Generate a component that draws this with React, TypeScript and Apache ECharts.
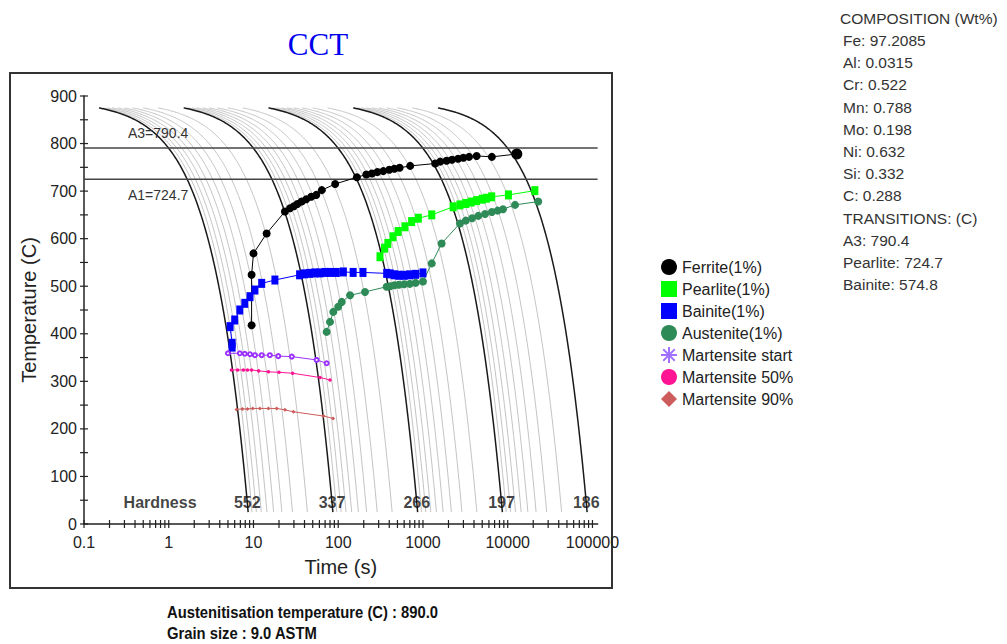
import React, { useEffect, useRef } from 'react';
import * as echarts from 'echarts';

// ---- data ----
const AUSTENITISATION_T = 890;
const CURVE_TOP = 875;
const CURVE_BOTTOM = 25;
const A3 = 790.4;
const A1 = 724.7;
const X_MIN = 0.1;
const X_MAX = 115000;

const coolingRatesMain = [100, 10, 1, 0.1, 0.01];
const coolingRatesMinor = [
  90, 80, 70, 60, 50, 40, 30, 20,
  9, 8, 7, 6, 5, 4, 3, 2,
  0.9, 0.8, 0.7, 0.6, 0.5, 0.4, 0.3, 0.2,
  0.09, 0.08, 0.07, 0.06, 0.05, 0.04, 0.03, 0.02,
];
const hardness = [552, 337, 266, 197, 186];

const ferrite = [
  [9.5, 418], [9.5, 524], [10, 569], [14.3, 611], [23.5, 657], [27, 664], [30, 668], [33, 673],
  [37, 678], [42, 683], [48, 688], [55, 692], [64, 702], [92, 715], [166, 729], [215, 735],
  [250, 737], [290, 740], [340, 742], [400, 745], [460, 747], [530, 749], [706, 753], [1393, 758],
  [1600, 762], [1900, 764], [2200, 766], [2600, 768], [3000, 770], [3500, 772], [4300, 774],
  [6500, 772], [12800, 778],
];
const pearlite = [
  [311, 562], [352, 580], [385, 590], [443, 604], [510, 615], [612, 625], [735, 636], [882, 643],
  [1270, 650], [2270, 667], [2733, 671], [3200, 674], [3700, 677], [4300, 680], [5000, 683],
  [5600, 685], [6470, 688], [10200, 692], [20900, 701],
];
const bainite = [
  [5.6, 372], [5.6, 380], [5.3, 415], [6.0, 429], [6.9, 450], [7.9, 464], [9.1, 478], [10.4, 492],
  [12.5, 506], [17.9, 513], [35, 524], [40, 526], [46, 527], [53, 528], [61, 528], [70, 529],
  [81, 529], [95, 529], [115, 530], [150, 529], [196, 529], [373, 527], [410, 526], [460, 524],
  [520, 523], [600, 523], [700, 524], [820, 525], [1000, 528],
];
const austenite = [
  [73, 404], [80, 425], [87.5, 446], [100, 457], [110, 467], [138, 481], [207, 488], [373, 499],
  [410, 500], [460, 502], [520, 503], [600, 504], [700, 505], [820, 507], [1000, 510], [1270, 548],
  [1660, 590], [2730, 632], [3200, 638], [3800, 643], [4500, 648], [5400, 652], [6500, 656],
  [7600, 659], [8800, 662], [12200, 671], [22900, 678],
];
const martensiteStart = [
  [5.0, 359], [6.9, 359], [7.9, 358], [9.1, 357], [10.4, 355], [12.5, 355], [15.6, 355],
  [19.6, 353], [28.3, 352], [55.6, 345], [73, 338],
];
const martensite50 = [
  [5.5, 324], [6.5, 324], [7.6, 324], [8.5, 324], [9.5, 324], [11.5, 322], [15, 320], [20, 319],
  [29, 317], [61, 308], [80, 303],
];
const martensite90 = [
  [6.3, 241], [7.4, 242], [8.5, 242], [9.8, 243], [11.9, 243], [15, 243], [18.8, 243], [23.5, 240],
  [29.6, 236], [67, 227], [87, 222],
];

const xTickLabels = ['0.1', '1', '10', '100', '1000', '10000', '100000'];
const xDecades = [0.1, 1, 10, 100, 1000, 10000];
const xMultipliers = [1, 2, 3, 4, 5, 6, 7, 8, 9];
const yTickValues = [0, 50, 100, 150, 200, 250, 300, 350, 400, 450, 500, 550, 600, 650, 700, 750, 800, 850, 900];

const compositionLines = [
  'COMPOSITION (Wt%)', 'Fe: 97.2085', 'Al: 0.0315', 'Cr: 0.522', 'Mn: 0.788', 'Mo: 0.198',
  'Ni: 0.632', 'Si: 0.332', 'C: 0.288', 'TRANSITIONS: (C)', 'A3: 790.4', 'Pearlite: 724.7',
  'Bainite: 574.8',
];
const footerLines = ['Austenitisation temperature (C) : 890.0', 'Grain size : 9.0 ASTM'];

const HARDNESS_LABEL_T = 45;
const ASTERISK = 'path://M0,7h16v2h-16z M7,0h2v16h-2z M1.6,2.9L2.9,1.6L14.4,13.1L13.1,14.4z M13.1,1.6L14.4,2.9L2.9,14.4L1.6,13.1z';

const FONT = 'Arial, "Liberation Sans", sans-serif';

function curveRenderer(color: string, width: number) {
  return (_params: any, api: any) => {
    const r = api.value(0);
    const tStart = (AUSTENITISATION_T - CURVE_TOP) / r;
    const tEnd = (AUSTENITISATION_T - CURVE_BOTTOM) / r;
    const pts: number[][] = [];
    const n = 160;
    for (let k = 0; k <= n; k++) {
      const t = tStart * Math.pow(tEnd / tStart, k / n);
      pts.push(api.coord([t, AUSTENITISATION_T - r * t]));
    }
    return {
      type: 'polyline',
      shape: { points: pts },
      style: { stroke: color, lineWidth: width, fill: 'none' },
    };
  };
}

export default function App() {
  const ref = useRef<HTMLDivElement>(null);

  useEffect(() => {
    if (!ref.current) return;
    const chart = echarts.init(ref.current, null, { renderer: 'svg' });

    const xTicks: number[][] = [];
    xDecades.forEach((d) => xMultipliers.forEach((m) => xTicks.push([d * m, 0])));
    xTicks.push([100000, 0]);
    const yTicks = yTickValues.map((v) => [X_MIN, v]);

    const hardnessData: any[] = hardness.map((h, i) => [
      (AUSTENITISATION_T - HARDNESS_LABEL_T) / coolingRatesMain[i], HARDNESS_LABEL_T, String(h),
    ]);
    hardnessData.push([0.79, HARDNESS_LABEL_T, 'Hardness']);

    const phaseLine = (name: string, data: number[][], color: string, symbol: string, size: any, z = 5) => ({
      name,
      type: 'line',
      data,
      symbol,
      symbolSize: size,
      showAllSymbol: true,
      lineStyle: { color, width: 1 },
      itemStyle: { color },
      z,
      silent: true,
    });

    const option: any = {
      animation: false,
      backgroundColor: '#ffffff',
      grid: { left: 84, right: 1007 - 597.6, top: 96, bottom: 644 - 524, containLabel: false },
      xAxis: {
        type: 'log',
        logBase: 10,
        min: X_MIN,
        max: X_MAX,
        splitNumber: 6,
        name: 'Time (s)',
        nameLocation: 'middle',
        nameGap: 33,
        nameTextStyle: { fontSize: 20, color: '#222', fontFamily: FONT },
        axisLine: { lineStyle: { color: '#222', width: 1.5 } },
        axisTick: { show: false },
        minorTick: { show: false },
        splitLine: { show: false },
        axisLabel: {
          fontSize: 16,
          color: '#222',
          fontFamily: FONT,
          margin: 10,
          showMaxLabel: false,
          formatter: (v: number) => {
            const lg = Math.log10(v);
            if (Math.abs(lg - Math.round(lg)) > 1e-6) return '';
            const idx = Math.round(lg) + 1;
            return xTickLabels[idx] ?? '';
          },
        },
      },
      yAxis: {
        type: 'value',
        min: 0,
        max: 900,
        interval: 100,
        name: 'Temperature (C)',
        nameLocation: 'middle',
        nameGap: 42,
        nameTextStyle: { fontSize: 20, color: '#222', fontFamily: FONT },
        axisLine: { show: true, lineStyle: { color: '#222', width: 1.5 } },
        axisTick: { show: false },
        splitLine: { show: false },
        axisLabel: { fontSize: 16, color: '#222', fontFamily: FONT, margin: 7 },
      },
      legend: {
        orient: 'vertical',
        left: 656,
        top: 254,
        itemWidth: 16,
        itemHeight: 16,
        itemGap: 6,
        selectedMode: false,
        textStyle: { fontSize: 16, color: '#222', fontFamily: FONT },
        data: [
          { name: 'Ferrite(1%)', icon: 'circle' },
          { name: 'Pearlite(1%)', icon: 'rect' },
          { name: 'Bainite(1%)', icon: 'rect' },
          { name: 'Austenite(1%)', icon: 'circle' },
          { name: 'Martensite start', icon: ASTERISK, itemStyle: { color: '#a070ff' } },
          { name: 'Martensite 50%', icon: 'circle' },
          { name: 'Martensite 90%', icon: 'diamond' },
        ],
      },
      graphic: [
        {
          type: 'rect',
          shape: { x: 10, y: 73, width: 602, height: 515 },
          style: { fill: 'none', stroke: '#333', lineWidth: 2 },
          z: 0,
          silent: true,
        },
        {
          type: 'text',
          x: 318,
          y: 44,
          style: {
            text: 'CCT',
            fill: '#0000ee',
            font: '31px "Liberation Serif", "DejaVu Serif", serif',
            textAlign: 'center',
            textVerticalAlign: 'middle',
          },
        },
        {
          type: 'text',
          x: 128,
          y: 133,
          z: 10,
          style: { text: 'A3=790.4', fill: '#333', font: `14px ${FONT}`, textAlign: 'left', textVerticalAlign: 'middle' },
        },
        {
          type: 'text',
          x: 128,
          y: 195,
          z: 10,
          style: { text: 'A1=724.7', fill: '#333', font: `14px ${FONT}`, textAlign: 'left', textVerticalAlign: 'middle' },
        },
        ...compositionLines.map((s, i) => ({
          type: 'text',
          x: i === 0 ? 840 : 843,
          y: 18.3 + 22.2 * i,
          style: { text: s, fill: '#333', font: `15.5px ${FONT}`, textAlign: 'left', textVerticalAlign: 'middle' },
        })),
        ...footerLines.map((s, i) => ({
          type: 'text',
          x: 167,
          y: 612 + 21 * i,
          scaleX: 0.87,
          style: {
            text: s,
            fill: '#111',
            font: `bold 17px ${FONT}`,
            textAlign: 'left',
            textVerticalAlign: 'middle',
          },
        })),
      ],
      series: [
        {
          name: 'minor cooling',
          type: 'custom',
          coordinateSystem: 'cartesian2d',
          data: coolingRatesMinor.map((r) => [r, 500]),
          renderItem: curveRenderer('#c4c4c4', 1),
          z: 1,
          silent: true,
        },
        {
          name: 'main cooling',
          type: 'custom',
          coordinateSystem: 'cartesian2d',
          data: coolingRatesMain.map((r) => [r, 500]),
          renderItem: curveRenderer('#1a1a1a', 1.5),
          z: 2,
          silent: true,
        },
        {
          name: 'A3',
          type: 'line',
          data: [[X_MIN, A3], [X_MAX, A3]],
          symbol: 'none',
          lineStyle: { color: '#444', width: 1.5 },
          z: 3,
          silent: true,
        },
        {
          name: 'A1',
          type: 'line',
          data: [[X_MIN, A1], [X_MAX, A1]],
          symbol: 'none',
          lineStyle: { color: '#444', width: 1.5 },
          z: 3,
          silent: true,
        },
        phaseLine('Ferrite(1%)', ferrite, '#000000', 'circle',
          (_v: any, p: any) => (p.dataIndex === ferrite.length - 1 ? 11 : 8)),
        phaseLine('Pearlite(1%)', pearlite, '#00ff00', 'rect', [7, 9]),
        phaseLine('Bainite(1%)', bainite, '#0000ff', 'rect', [7, 9]),
        phaseLine('Austenite(1%)', austenite, '#2e8b57', 'circle', 8),
        phaseLine('Martensite start', martensiteStart, '#9b30ff', 'emptyCircle', 4),
        phaseLine('Martensite 50%', martensite50, '#ff1493', 'circle', 3.5),
        phaseLine('Martensite 90%', martensite90, '#cd5c5c', 'diamond', 4),
        {
          name: 'hardness',
          type: 'scatter',
          data: hardnessData,
          symbolSize: 0,
          z: 8,
          silent: true,
          label: {
            show: true,
            position: 'inside',
            formatter: (p: any) => p.value[2],
            fontSize: 16,
            fontWeight: 'bold',
            color: '#111',
            fontFamily: FONT,
          },
        },
        {
          name: 'xticks',
          type: 'custom',
          coordinateSystem: 'cartesian2d',
          data: xTicks,
          z: 9,
          silent: true,
          renderItem: (_p: any, api: any) => {
            const c = api.coord([api.value(0), api.value(1)]);
            return {
              type: 'line',
              shape: { x1: c[0], y1: c[1] - 4, x2: c[0], y2: c[1] + 4 },
              style: { stroke: '#222', lineWidth: 1.2 },
            };
          },
        },
        {
          name: 'yticks',
          type: 'custom',
          coordinateSystem: 'cartesian2d',
          data: yTicks,
          z: 9,
          silent: true,
          renderItem: (_p: any, api: any) => {
            const c = api.coord([api.value(0), api.value(1)]);
            return {
              type: 'line',
              shape: { x1: c[0] - 4, y1: c[1], x2: c[0] + 4, y2: c[1] },
              style: { stroke: '#222', lineWidth: 1.2 },
            };
          },
        },
      ],
    };

    chart.setOption(option);
    return () => chart.dispose();
  }, []);

  return (
    <div
      ref={ref}
      style={{ position: 'fixed', left: 0, top: 0, width: 1007, height: 644, background: '#fff' }}
    />
  );
}
